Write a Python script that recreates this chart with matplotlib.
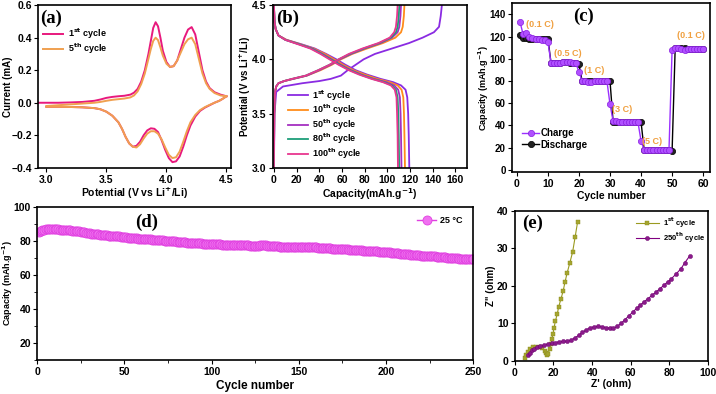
import matplotlib
matplotlib.use("Agg")
import matplotlib.pyplot as plt
from matplotlib.ticker import MultipleLocator

plt.rcParams['font.family'] = ['Liberation Sans', 'DejaVu Sans']
plt.rcParams['font.weight'] = 'bold'
plt.rcParams['axes.labelweight'] = 'bold'
plt.rcParams['axes.linewidth'] = 1.2
plt.rcParams['xtick.direction'] = 'out'
plt.rcParams['ytick.direction'] = 'out'
plt.rcParams['xtick.major.size'] = 3
plt.rcParams['ytick.major.size'] = 3
plt.rcParams['xtick.major.pad'] = 2
plt.rcParams['ytick.major.pad'] = 1.5
plt.rcParams['xtick.labelsize'] = 7.5
plt.rcParams['ytick.labelsize'] = 7.5
plt.rcParams['mathtext.default'] = 'bf'

# ---- (a) cyclic voltammetry ----
cv_v_up = [2.93, 3.0, 3.1, 3.2, 3.3, 3.4, 3.45, 3.5, 3.55, 3.6, 3.65, 3.7, 3.73, 3.76,
           3.79, 3.82, 3.85, 3.87, 3.89, 3.91, 3.93, 3.95, 3.97, 4.0, 4.03, 4.06, 4.09,
           4.12, 4.15, 4.18, 4.21, 4.24, 4.27, 4.3, 4.33, 4.36, 4.4, 4.45, 4.5]
cv1_up = [0.0, 0.0, 0.0, 0.002, 0.005, 0.012, 0.02, 0.03, 0.036, 0.04, 0.043, 0.05, 0.062,
          0.085, 0.13, 0.2, 0.3, 0.38, 0.46, 0.495, 0.47, 0.4, 0.32, 0.25, 0.22, 0.225,
          0.26, 0.33, 0.4, 0.45, 0.465, 0.42, 0.31, 0.2, 0.13, 0.09, 0.065, 0.05, 0.04]
cv5_up = [-0.02, -0.02, -0.015, -0.01, -0.005, 0.0, 0.005, 0.012, 0.018, 0.022, 0.026, 0.033,
          0.045, 0.07, 0.115, 0.18, 0.27, 0.33, 0.38, 0.40, 0.385, 0.34, 0.29, 0.24, 0.22,
          0.225, 0.26, 0.31, 0.36, 0.39, 0.40, 0.36, 0.27, 0.18, 0.12, 0.085, 0.06, 0.045, 0.04]
cv_v_down = [4.5, 4.47, 4.44, 4.4, 4.36, 4.32, 4.28, 4.24, 4.2, 4.17, 4.14, 4.11, 4.08, 4.05,
             4.02, 3.99, 3.96, 3.93, 3.9, 3.87, 3.84, 3.81, 3.78, 3.75, 3.72, 3.69, 3.66,
             3.63, 3.6, 3.55, 3.5, 3.45, 3.4, 3.3, 3.2, 3.1, 3.0]
cv1_down = [0.04, 0.025, 0.012, 0.0, -0.015, -0.03, -0.05, -0.085, -0.14, -0.2, -0.27, -0.33,
            -0.36, -0.365, -0.34, -0.29, -0.23, -0.18, -0.16, -0.157, -0.17, -0.2, -0.24,
            -0.265, -0.27, -0.25, -0.21, -0.16, -0.12, -0.08, -0.055, -0.04, -0.033, -0.028,
            -0.026, -0.025, -0.025]
cv5_down = [0.04, 0.025, 0.012, 0.0, -0.013, -0.027, -0.045, -0.075, -0.12, -0.175, -0.24,
            -0.3, -0.335, -0.34, -0.32, -0.275, -0.225, -0.19, -0.175, -0.175, -0.19, -0.22,
            -0.255, -0.275, -0.27, -0.25, -0.21, -0.16, -0.12, -0.08, -0.055, -0.04, -0.033,
            -0.028, -0.026, -0.025, -0.025]

# ---- (b) charge / discharge profiles ----
chg_v = [3.0, 3.5, 3.7, 3.75, 3.78, 3.8, 3.82, 3.85, 3.9, 3.95, 4.0, 4.05, 4.1, 4.15, 4.2,
         4.25, 4.3, 4.4, 4.5]
chg_cap = {
    '1st': [0, 0.5, 2, 8, 25, 40, 50, 59, 65, 72, 79, 89, 104, 119, 131, 141, 145.5, 147, 148],
    '10th': [0, 0.3, 1, 2, 4, 9, 17, 29, 41, 51, 59, 69, 82, 96, 107, 112, 113.5, 114.5, 115],
    '50th': [0, 0.3, 1, 2, 4, 9, 17, 29, 40, 50, 58, 68, 80, 94, 104, 109, 110.5, 111.5, 112],
    '80th': [0, 0.3, 1, 2, 4, 9, 16, 28, 39, 49, 57, 67, 79, 93, 103, 107.5, 109, 110, 110.5],
    '100th': [0, 0.3, 1, 2, 4, 9, 16, 28, 39, 49, 57, 66, 78, 92, 102, 106, 107.5, 108.5, 109],
}
dis_v = [4.5, 4.35, 4.28, 4.22, 4.18, 4.14, 4.1, 4.05, 4.0, 3.95, 3.9, 3.86, 3.82, 3.79,
         3.76, 3.72, 3.65, 3.5, 3.3, 3.0]
dis_cap = {
    '1st': [0, 0.5, 1.5, 4, 11, 24, 36, 46, 55, 63, 72, 82, 94, 105, 112, 116, 117.5, 118.3, 118.8, 119.3],
    '10th': [0, 0.5, 1.5, 4, 11, 23, 35, 45, 53, 61, 70, 80, 91, 102, 109, 112.5, 114, 114.6, 115, 115.5],
    '50th': [0, 0.5, 1.5, 4, 10, 22, 34, 43, 51, 59, 68, 77, 88, 99, 106, 109.5, 111, 111.6, 112, 112.4],
    '80th': [0, 0.5, 1.5, 4, 10, 22, 33, 42, 50, 58, 67, 76, 87, 97, 104, 107.5, 109, 109.6, 110, 110.4],
    '100th': [0, 0.5, 1.5, 4, 10, 21, 32, 41, 49, 57, 66, 75, 86, 96, 103, 106.5, 108, 108.5, 109, 109.3],
}
cyc_colors = {'1st': '#8a2be2', '10th': '#ff8c1a', '50th': '#a52fc0',
              '80th': '#1e9e7a', '100th': '#e8368f'}
cyc_labels = {'1st': '1$^{st}$ cycle', '10th': '10$^{th}$ cycle', '50th': '50$^{th}$ cycle',
              '80th': '80$^{th}$ cycle', '100th': '100$^{th}$ cycle'}

# ---- (c) rate capability ----
rate_cycles = list(range(1, 61))
rate_charge = [133, 122, 123, 120, 119, 118, 118, 117, 117, 115,
               96, 96, 96, 96, 97, 97, 97, 96, 96, 88,
               80, 80, 79, 79, 80, 80, 80, 80, 80, 59,
               44, 44, 43, 43, 43, 43, 43, 43, 43, 26,
               18, 18, 18, 18, 18, 18, 18, 18, 18, 108,
               110, 110, 109, 108, 109, 109, 109, 109, 109, 109]
rate_discharge = [121, 119, 119, 118, 118, 118, 118, 118, 118, 118,
                  96, 96, 96, 96, 97, 97, 96, 96, 96, 95,
                  80, 80, 80, 80, 80, 80, 80, 80, 80, 80,
                  43, 43, 43, 43, 43, 43, 43, 43, 43, 43,
                  18, 18, 18, 18, 18, 18, 18, 18, 18, 17,
                  110, 110, 110, 110, 109, 109, 109, 109, 109, 109]
rate_text = ['(0.1 C)', '(0.5 C)', '(1 C)', '(3 C)', '(5 C)', '(0.1 C)']
rate_text_x = [7.5, 16.5, 25, 34, 43.5, 56]
rate_text_y = [131, 105, 89, 54, 26, 121]

# ---- (d) long cycling at 25 C ----
long_cycles = list(range(1, 251))
long_cap = [85.5, 86.0, 86.3, 86.5, 86.7, 86.8, 86.9, 87.0, 87.0, 87.0,
            86.9, 86.8, 86.6, 86.5, 86.4, 86.3, 86.3, 86.3, 86.2, 86.1,
            86.0, 85.9, 85.8, 85.6, 85.5, 85.3, 85.1, 84.9, 84.7, 84.5,
            84.3, 84.2, 84.0, 83.9, 83.8, 83.6, 83.5, 83.4, 83.3, 83.2,
            83.1, 83.0, 83.0, 82.9, 82.8, 82.7, 82.6, 82.5, 82.4, 82.3,
            82.2, 82.0, 81.9, 81.8, 81.7, 81.6, 81.5, 81.4, 81.3, 81.3,
            81.2, 81.1, 81.0, 81.0, 80.9, 80.8, 80.7, 80.6, 80.5, 80.4,
            80.3, 80.3, 80.2, 80.1, 80.0, 80.0, 79.9, 79.8, 79.7, 79.6,
            79.5, 79.4, 79.3, 79.2, 79.1, 79.0, 78.9, 78.9, 78.8, 78.7,
            78.7, 78.6, 78.5, 78.5, 78.4, 78.4, 78.3, 78.3, 78.2, 78.2,
            78.1, 78.1, 78.0, 78.0, 77.9, 77.8, 77.6, 77.5, 77.4, 77.4,
            77.5, 77.6, 77.6, 77.6, 77.5, 77.5, 77.5, 77.4, 77.4, 77.4,
            77.4, 77.3, 77.3, 77.3, 77.3, 77.3, 77.3, 77.4, 77.4, 77.4,
            77.4, 77.3, 77.2, 77.1, 77.0, 76.9, 76.8, 76.8, 76.7, 76.7,
            76.6, 76.6, 76.6, 76.5, 76.5, 76.5, 76.5, 76.5, 76.5, 76.5,
            76.5, 76.5, 76.5, 76.5, 76.4, 76.4, 76.3, 76.3, 76.2, 76.2,
            76.1, 76.1, 76.0, 76.0, 75.9, 75.8, 75.7, 75.6, 75.5, 75.5,
            75.4, 75.3, 75.3, 75.2, 75.1, 75.1, 75.0, 75.0, 74.9, 74.9,
            74.8, 74.7, 74.6, 74.6, 74.5, 74.4, 74.3, 74.3, 74.2, 74.1,
            74.1, 74.0, 73.9, 73.8, 73.8, 73.7, 73.6, 73.5, 73.4, 73.4,
            73.3, 73.2, 73.1, 73.0, 72.9, 72.8, 72.7, 72.6, 72.5, 72.4,
            72.3, 72.2, 72.1, 72.0, 71.9, 71.8, 71.7, 71.6, 71.5, 71.4,
            71.3, 71.3, 71.2, 71.2, 71.1, 71.0, 71.0, 70.9, 70.8, 70.7,
            70.6, 70.5, 70.4, 70.3, 70.2, 70.1, 70.0, 69.9, 69.8, 69.7,
            69.7, 69.6, 69.6, 69.6, 69.5, 69.5, 69.5, 69.5, 69.5, 69.5]

# ---- (e) impedance ----
eis1_re = [5.5, 5.9, 6.8, 8.0, 9.4, 11.1, 12.8, 14.2, 15.5, 16.3, 16.8, 17.2, 18.1, 18.6,
           19.1, 19.8, 20.3, 21.0, 21.9, 22.7, 23.8, 25.0, 26.0, 27.1, 28.5, 29.9, 31.2, 32.5]
eis1_im = [0.7, 1.6, 2.5, 3.1, 3.6, 3.8, 3.8, 3.4, 2.7, 2.1, 1.7, 1.9, 3.2, 4.4,
           5.8, 7.3, 8.9, 10.6, 12.4, 14.4, 16.4, 18.6, 21.1, 23.5, 26.2, 29.0, 33.0, 37.1]
eis250_re = [7, 8, 9, 10, 11.5, 13, 15, 17, 19, 21, 23, 25, 27, 29, 31, 33, 35, 37, 39, 41,
             43, 45, 47, 49, 51, 53, 55, 57, 59, 61, 63, 65, 67, 69, 71, 73, 75, 77, 79, 81,
             83.5, 86, 88, 90.5]
eis250_im = [1.5, 2.2, 2.8, 3.3, 3.7, 4.0, 4.2, 4.5, 4.7, 4.9, 5.1, 5.2, 5.2, 5.5, 6.1, 6.8,
             7.6, 8.3, 8.8, 9.1, 9.2, 9.1, 8.9, 8.7, 8.7, 9.2, 10.0, 11.0, 12.0, 13.0, 14.0,
             14.9, 15.8, 16.6, 17.5, 18.3, 19.2, 20.1, 21.0, 21.9, 23.2, 24.6, 26.2, 28.0]

fig = plt.figure(figsize=(7.16, 3.94), dpi=100)
ax_a = fig.add_axes([0.053, 0.574, 0.270, 0.413])
ax_b = fig.add_axes([0.381, 0.574, 0.271, 0.413])
ax_c = fig.add_axes([0.715, 0.563, 0.277, 0.429])
ax_d = fig.add_axes([0.052, 0.086, 0.609, 0.389])
ax_e = fig.add_axes([0.719, 0.084, 0.270, 0.381])

label_kw = dict(fontsize=7.5, fontweight='bold', labelpad=1)
ylab_kw = dict(fontsize=7, fontweight='bold')
panel_kw = dict(family='Liberation Serif', fontweight='bold', fontsize=13.5, va='top')
leg_kw = dict(frameon=False, handletextpad=0.5, borderaxespad=0.2, borderpad=0.2)

# (a)
ax_a.plot(cv_v_up, cv1_up, color='#e8197d', lw=1.4, label='1$^{st}$ cycle')
ax_a.plot(cv_v_down, cv1_down, color='#e8197d', lw=1.4)
ax_a.plot(cv_v_up[1:], cv5_up[1:], color='#f0a050', lw=1.4, label='5$^{th}$ cycle')
ax_a.plot(cv_v_down, cv5_down, color='#f0a050', lw=1.4)
ax_a.set_xlim(2.93, 4.54)
ax_a.set_ylim(-0.4, 0.6)
ax_a.set_xticks([3.0, 3.5, 4.0, 4.5])
ax_a.set_yticks([-0.4, -0.2, 0.0, 0.2, 0.4, 0.6])
ax_a.set_xlabel('Potential (V vs Li$^{+}$/Li)', **label_kw)
ax_a.set_ylabel('Current (mA)', **ylab_kw)
ax_a.yaxis.set_label_coords(-0.13, 0.5)
ax_a.text(0.01, 0.975, '(a)', transform=ax_a.transAxes, ha='left', **panel_kw)
ax_a.legend(loc='upper left', bbox_to_anchor=(0.01, 0.89), fontsize=6.5,
            handlelength=2.2, labelspacing=0.1, **leg_kw)

# (b)
for key in ['1st', '10th', '50th', '80th', '100th']:
    ax_b.plot(chg_cap[key], chg_v, color=cyc_colors[key], lw=1.3, label=cyc_labels[key])
    ax_b.plot(dis_cap[key], dis_v, color=cyc_colors[key], lw=1.3)
ax_b.set_xlim(-1, 170)
ax_b.set_ylim(3.0, 4.5)
ax_b.set_xticks(range(0, 161, 20))
ax_b.set_yticks([3.0, 3.5, 4.0, 4.5])
ax_b.set_xlabel('Capacity(mAh.g$^{-1}$)', **label_kw)
ax_b.set_ylabel('Potential (V vs Li$^{+}$/Li)', **ylab_kw)
ax_b.yaxis.set_label_coords(-0.103, 0.5)
ax_b.text(0.015, 0.975, '(b)', transform=ax_b.transAxes, ha='left', **panel_kw)
ax_b.legend(loc='lower left', bbox_to_anchor=(0.06, 0.02), fontsize=6.5,
            handlelength=2.2, labelspacing=0.02, **leg_kw)

# (c)
ax_c.plot(rate_cycles, rate_discharge, color='black', lw=1.0, marker='o', ms=4.5,
          mfc='#222222', mec='black', mew=0.5, label='Discharge')
ax_c.plot(rate_cycles, rate_charge, color='#9b30ff', lw=1.0, marker='o', ms=4.5,
          mfc='#b050ff', mec='#8a20e0', mew=0.5, label='Charge')
for t, x, y in zip(rate_text, rate_text_x, rate_text_y):
    ax_c.text(x, y, t, color='#f0a040', fontsize=6.5, fontweight='bold', ha='center', va='center')
ax_c.set_xlim(-1.6, 62.3)
ax_c.set_ylim(-2, 150)
ax_c.set_xticks(range(0, 61, 10))
ax_c.set_yticks(range(0, 141, 20))
ax_c.tick_params(axis='y', labelsize=7)
ax_c.set_xlabel('Cycle number', **label_kw)
ax_c.set_ylabel('Capacity (mAh.g$^{-1}$)', fontsize=6.5, fontweight='bold')
ax_c.yaxis.set_label_coords(-0.105, 0.5)
ax_c.text(0.36, 0.975, '(c)', transform=ax_c.transAxes, ha='center', **panel_kw)
h, l = ax_c.get_legend_handles_labels()
ax_c.legend(h[::-1], l[::-1], loc='lower left', bbox_to_anchor=(0.03, 0.11), fontsize=7,
            handlelength=1.8, labelspacing=0.15, frameon=False, handletextpad=0.1,
            borderaxespad=0.2, borderpad=0.2)

# (d)
ax_d.plot(long_cycles, long_cap, color='#e040e0', lw=1.0, marker='o', ms=6.5,
          mfc='#f070f0', mec='#e040e0', mew=0.6, label='25 \u00b0C')
ax_d.set_xlim(0, 250)
ax_d.set_ylim(10, 100)
ax_d.set_xticks(range(0, 251, 50))
ax_d.set_yticks(range(20, 101, 20))
ax_d.xaxis.set_minor_locator(MultipleLocator(25))
ax_d.yaxis.set_minor_locator(MultipleLocator(10))
ax_d.tick_params(which='minor', length=2)
ax_d.set_xlabel('Cycle number', fontsize=8.5, fontweight='bold', labelpad=2)
ax_d.set_ylabel('Capacity (mAh.g$^{-1}$)', fontsize=6.5, fontweight='bold')
ax_d.yaxis.set_label_coords(-0.052, 0.5)
ax_d.text(0.25, 0.955, '(d)', transform=ax_d.transAxes, ha='center', **panel_kw)
ax_d.legend(loc='upper right', bbox_to_anchor=(0.99, 0.98), fontsize=6.5,
            handlelength=2.2, frameon=False, handletextpad=0.4, borderaxespad=0.3)

# (e)
ax_e.plot(eis1_re, eis1_im, color='#9a9a20', lw=0.8, marker='s', ms=3,
          mfc='#a5a530', mec='#8a8a18', mew=0.3, label='1$^{st}$ cycle')
ax_e.plot(eis250_re, eis250_im, color='#800080', lw=0.8, marker='o', ms=3,
          mfc='#8b1a8b', mec='#6a006a', mew=0.3, label='250$^{th}$ cycle')
ax_e.set_xlim(0, 100)
ax_e.set_ylim(0, 40)
ax_e.set_xticks(range(0, 101, 20))
ax_e.set_yticks(range(0, 41, 10))
ax_e.set_xlabel("Z' (ohm)", **label_kw)
ax_e.set_ylabel('Z" (ohm)', **ylab_kw)
ax_e.yaxis.set_label_coords(-0.098, 0.5)
ax_e.text(0.04, 0.975, '(e)', transform=ax_e.transAxes, ha='left', **panel_kw)
ax_e.legend(loc='upper right', bbox_to_anchor=(1.0, 0.99), fontsize=5.5,
            handlelength=3, labelspacing=0.1, **leg_kw)

fig.savefig('out.png', dpi=100)
